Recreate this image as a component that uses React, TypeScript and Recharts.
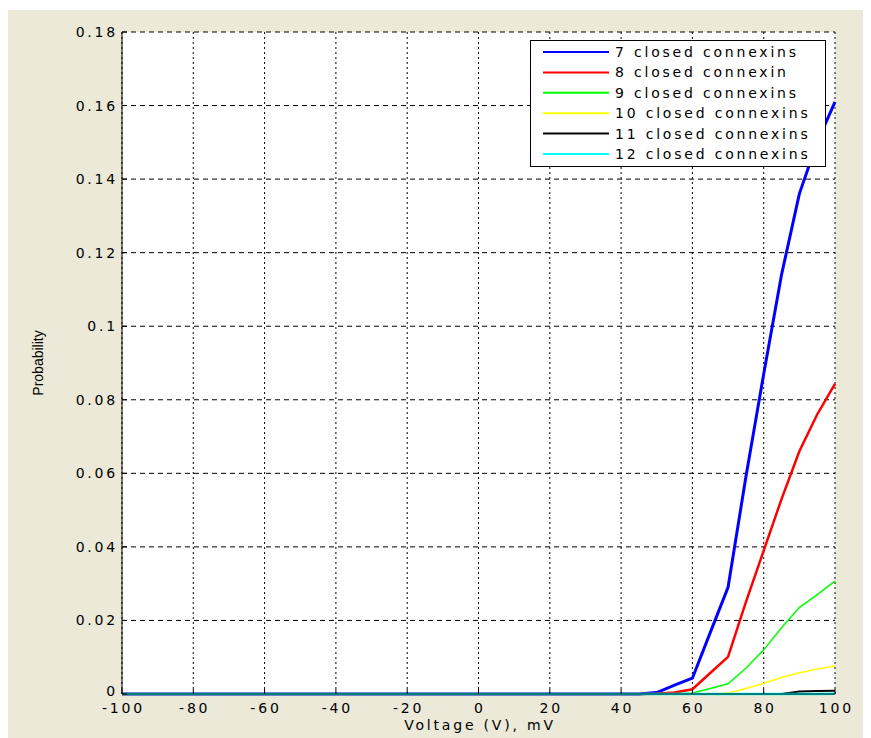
import { LineChart, Line, XAxis, YAxis, CartesianGrid, Legend } from "recharts";

const voltage = [
  -100, -95, -90, -85, -80, -75, -70, -65, -60, -55,
  -50, -45, -40, -35, -30, -25, -20, -15, -10, -5,
  0, 5, 10, 15, 20, 25, 30, 35, 40, 45,
  50, 55, 60, 65, 70, 75, 80, 85, 90, 95, 100,
];

const closed7 = [
  0, 0, 0, 0, 0, 0, 0, 0, 0, 0,
  0, 0, 0, 0, 0, 0, 0, 0, 0, 0,
  0, 0, 0, 0, 0, 0, 0, 0, 0, 0,
  0.0004, 0.0024, 0.0043, 0.0167, 0.029, 0.059, 0.087, 0.114, 0.136, 0.15, 0.161,
];
const closed8 = [
  0, 0, 0, 0, 0, 0, 0, 0, 0, 0,
  0, 0, 0, 0, 0, 0, 0, 0, 0, 0,
  0, 0, 0, 0, 0, 0, 0, 0, 0, 0,
  0.0001, 0.0004, 0.0013, 0.0057, 0.0101, 0.025, 0.039, 0.053, 0.066, 0.076, 0.0843,
];
const closed9 = [
  0, 0, 0, 0, 0, 0, 0, 0, 0, 0,
  0, 0, 0, 0, 0, 0, 0, 0, 0, 0,
  0, 0, 0, 0, 0, 0, 0, 0, 0, 0,
  0, 0, 0.0003, 0.0015, 0.0028, 0.007, 0.012, 0.018, 0.0235, 0.027, 0.0307,
];
const closed10 = [
  0, 0, 0, 0, 0, 0, 0, 0, 0, 0,
  0, 0, 0, 0, 0, 0, 0, 0, 0, 0,
  0, 0, 0, 0, 0, 0, 0, 0, 0, 0,
  0, 0, 0, 0, 0.0003, 0.0015, 0.0029, 0.0045, 0.0058, 0.0068, 0.0076,
];
const closed11 = [
  0, 0, 0, 0, 0, 0, 0, 0, 0, 0,
  0, 0, 0, 0, 0, 0, 0, 0, 0, 0,
  0, 0, 0, 0, 0, 0, 0, 0, 0, 0,
  0, 0, 0, 0, 0, 0, 0, 0, 0.0007, 0.0008, 0.0009,
];
const closed12 = [
  0, 0, 0, 0, 0, 0, 0, 0, 0, 0,
  0, 0, 0, 0, 0, 0, 0, 0, 0, 0,
  0, 0, 0, 0, 0, 0, 0, 0, 0, 0,
  0, 0, 0, 0, 0, 0, 0, 0, 0, 0, 0.0001,
];

const xTicks = [-100, -80, -60, -40, -20, 0, 20, 40, 60, 80, 100];
const yTicks = [0, 0.02, 0.04, 0.06, 0.08, 0.1, 0.12, 0.14, 0.16, 0.18];

const SERIES = [
  { key: "c7", name: "7 closed connexins", color: "#0000ff", width: 3 },
  { key: "c8", name: "8 closed connexin", color: "#ff0000", width: 2.5 },
  { key: "c9", name: "9 closed connexins", color: "#00ff00", width: 1.5 },
  { key: "c10", name: "10 closed connexins", color: "#ffff00", width: 1.5 },
  { key: "c11", name: "11 closed connexins", color: "#000000", width: 2 },
  { key: "c12", name: "12 closed connexins", color: "#00ffff", width: 2.5 },
];

const data = voltage.map((v, i) => ({
  v,
  c7: closed7[i],
  c8: closed8[i],
  c9: closed9[i],
  c10: closed10[i],
  c11: closed11[i],
  c12: closed12[i],
}));

const FONT = "'DejaVu Sans', Verdana, sans-serif";
const LABEL_FONT = "'Liberation Sans', Arial, sans-serif";
const SIZE = 14;
const SPACING = 2.8;

function BottomTick(props: any) {
  const { x, y, payload } = props;
  return (
    <g>
      <line x1={x} y1={y} x2={x} y2={y - 5} stroke="#000" />
      <text x={x + SPACING / 2} y={y + 14} textAnchor="middle" dominantBaseline="central" fontFamily={FONT} fontSize={SIZE} letterSpacing={SPACING} fill="#000">
        {payload.value}
      </text>
    </g>
  );
}

function LeftTick(props: any) {
  const { x, y, payload } = props;
  const label = payload.value === 0 ? "0" : String(+Number(payload.value).toFixed(2));
  return (
    <g>
      <line x1={x} y1={y} x2={x + 5} y2={y} stroke="#000" />
      <text x={x - 4} y={payload.value === 0 ? y - 3 : y} textAnchor="end" dominantBaseline="central" fontFamily={FONT} fontSize={SIZE} letterSpacing={SPACING} fill="#000">
        {label}
      </text>
    </g>
  );
}

function TopTick(props: any) {
  const { x, y } = props;
  return <line x1={x} y1={y} x2={x} y2={y + 5} stroke="#000" />;
}

function RightTick(props: any) {
  const { x, y } = props;
  return <line x1={x} y1={y} x2={x - 5} y2={y} stroke="#000" />;
}

function LegendBox() {
  return (
    <svg width={296} height={127} style={{ display: "block" }}>
      <rect x={0.5} y={0.5} width={295} height={126} fill="#fff" stroke="#000" />
      {SERIES.map((s, i) => {
        const cy = 12 + i * 20.4;
        return (
          <g key={s.key}>
            <line x1={13} y1={cy} x2={79} y2={cy} stroke={s.color} strokeWidth={2} />
            <text x={85} y={cy} dominantBaseline="central" fontFamily={FONT} fontSize={SIZE} letterSpacing={SPACING} fill="#000">
              {s.name}
            </text>
          </g>
        );
      })}
    </svg>
  );
}

export default function App() {
  return (
    <div style={{ marginTop: 2, width: 863, height: 728, background: "#ece9d8", position: "relative" }}>
      <LineChart width={863} height={728} data={data} margin={{ top: 22, right: 36, bottom: 0, left: 0 }}>
        <CartesianGrid horizontal={false} stroke="#000" strokeDasharray="2 3" fill="#fff" />
        <CartesianGrid vertical={false} stroke="#000" strokeDasharray="5 4" />
        <XAxis
          dataKey="v"
          type="number"
          domain={[-100, 100]}
          ticks={xTicks}
          height={44}
          tickSize={0}
          tickMargin={0}
          tickLine={false}
          axisLine={{ stroke: "#000" }}
          tick={<BottomTick />}
          interval={0}
        />
        <XAxis
          xAxisId="top"
          orientation="top"
          dataKey="v"
          type="number"
          domain={[-100, 100]}
          ticks={xTicks}
          height={0}
          tickSize={0}
          tickMargin={0}
          tickLine={false}
          axisLine={{ stroke: "#000" }}
          tick={<TopTick />}
          interval={0}
        />
        <YAxis
          type="number"
          domain={[0, 0.18]}
          ticks={yTicks}
          width={114}
          tickSize={0}
          tickMargin={0}
          tickLine={false}
          axisLine={{ stroke: "#000" }}
          tick={<LeftTick />}
          interval={0}
          label={{ value: "Probability", angle: -90, position: "insideLeft", offset: 30, style: { fontFamily: LABEL_FONT, fontSize: 14, fill: "#000", textAnchor: "middle" } }}
        />
        <YAxis
          yAxisId="right"
          orientation="right"
          type="number"
          domain={[0, 0.18]}
          ticks={yTicks}
          width={0}
          tickSize={0}
          tickMargin={0}
          tickLine={false}
          axisLine={{ stroke: "#000", strokeWidth: 1.5 }}
          tick={<RightTick />}
          interval={0}
        />
        {SERIES.map((s) => (
          <Line
            key={s.key}
            type="linear"
            dataKey={s.key}
            name={s.name}
            stroke={s.color}
            strokeWidth={s.width}
            dot={false}
            isAnimationActive={false}
          />
        ))}
        <Legend
          layout="vertical"
          align="center"
          verticalAlign="middle"
          content={<LegendBox />}
          wrapperStyle={{ left: 522, top: 30, width: 296, height: 127 }}
        />
      </LineChart>
      <div
        style={{
          position: "absolute",
          left: 0,
          top: 707,
          width: 944,
          textAlign: "center",
          fontFamily: FONT,
          fontSize: SIZE,
          lineHeight: "16px",
          letterSpacing: SPACING,
          color: "#000",
          pointerEvents: "none",
        }}
      >
        Voltage (V), mV
      </div>
    </div>
  );
}
